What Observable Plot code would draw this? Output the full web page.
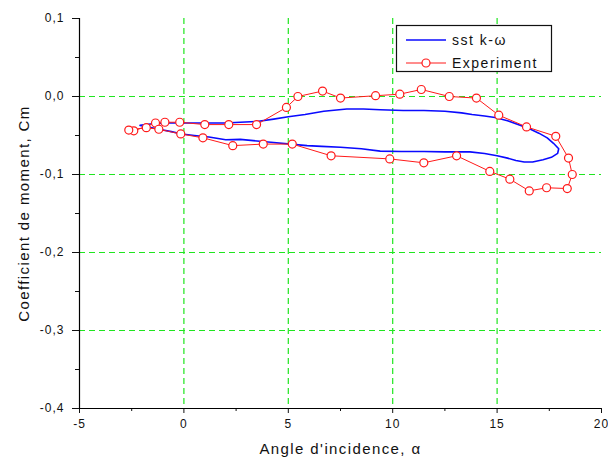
<!DOCTYPE html>
<html>
<head>
<meta charset="utf-8">
<script src="https://cdn.jsdelivr.net/npm/d3@7"></script>
<script src="https://cdn.jsdelivr.net/npm/@observablehq/plot@0.6"></script>
<style>
  body { margin: 0; background: #fff; }
  #chart svg text { letter-spacing: 1px; }
  #chart svg text.lbl { letter-spacing: 1.4px; }
</style>
</head>
<body>
<div id="chart"></div>
<script>
// Simulation (sst k-ω) hysteresis loop
const simAlpha = [-2.1,-1.5,-0.8,0,1,2,2.7,3.5,4.3,5,5.8,6.7,7.8,8.6,9.4,10.5,11.5,12.5,13.3,13.8,14.4,14.9,15.5,16.1,16.6,17,17.4,17.7,17.95,17.9,17.6,17.2,16.7,16.3,15.9,15.5,15.0,14.4,13.7,12.5,11.5,10.4,9.4,8.5,7.5,6.6,5.9,5.1,4.3,3.5,2.7,2.0,1.2,0.5,-0.1,-0.6,-1.2,-1.7,-2.1];
const simCm    = [-0.037,-0.035,-0.034,-0.034,-0.034,-0.034,-0.033,-0.032,-0.029,-0.026,-0.023,-0.019,-0.016,-0.016,-0.017,-0.018,-0.018,-0.019,-0.021,-0.023,-0.025,-0.027,-0.031,-0.037,-0.042,-0.047,-0.053,-0.060,-0.067,-0.073,-0.078,-0.081,-0.084,-0.084,-0.082,-0.079,-0.076,-0.073,-0.071,-0.071,-0.0705,-0.0705,-0.070,-0.067,-0.065,-0.064,-0.063,-0.061,-0.059,-0.057,-0.055,-0.0555,-0.052,-0.050,-0.048,-0.045,-0.042,-0.039,-0.037];

// Experiment
const expAlpha = [-2.4,-1.36,-0.91,-0.2,1.0,2.15,3.48,4.91,5.46,6.64,7.5,9.18,10.34,11.37,12.71,14.01,15.08,16.41,17.81,18.42,18.6,18.36,17.37,16.54,15.61,14.65,13.06,11.49,9.86,7.05,5.19,3.8,2.34,0.91,-0.15,-1.2,-1.8,-2.64];
const expCm    = [-0.044,-0.034,-0.033,-0.033,-0.036,-0.036,-0.036,-0.014,0.000,0.007,-0.002,0.001,0.003,0.009,0.000,-0.002,-0.024,-0.039,-0.051,-0.079,-0.100,-0.118,-0.117,-0.121,-0.106,-0.096,-0.076,-0.085,-0.080,-0.076,-0.061,-0.061,-0.063,-0.053,-0.048,-0.042,-0.040,-0.043];

const xTicks = [-5,0,5,10,15,20];
const xMinor = [-2.5,2.5,7.5,12.5,17.5];
const yTicks = [-0.4,-0.3,-0.2,-0.1,0,0.1];
const yMinor = [-0.35,-0.25,-0.15,-0.05,0.05];
const xGrid = [0,5,10,15];
const yGrid = [-0.3,-0.2,-0.1,0];

const xTitle = "Angle d'incidence, α";
const yTitle = "Coefficient de moment, Cm";
const seriesNames = ["sst k-ω", "Experiment"];

const sim = simAlpha.map((a,i) => ({a, cm: simCm[i]}));
const exp = expAlpha.map((a,i) => ({a, cm: expCm[i]}));

const gridColor = "#1fe61f";
const fmtY = d => (Math.abs(d) < 1e-9 ? 0 : d).toFixed(1).replace(".", ",");

const plot = Plot.plot({
  width: 608,
  height: 466,
  marginLeft: 79,
  marginRight: 7,
  marginTop: 18,
  marginBottom: 58,
  style: "font-family: 'Liberation Sans', Arial, sans-serif; font-size: 12px; background: white; color: #111;",
  x: {domain: [-5, 20]},
  y: {domain: [-0.4, 0.1]},
  marks: [
    Plot.ruleX(xGrid, {stroke: gridColor, strokeDasharray: "6,4", strokeWidth: 1.2}),
    Plot.ruleY(yGrid, {stroke: gridColor, strokeDasharray: "6,4", strokeWidth: 1.2}),
    Plot.axisX(xTicks, {tickSize: 5, tickPadding: 6, tickFormat: d => String(d), label: null, fontSize: 12}),
    Plot.axisX(xMinor, {tickSize: 3, tickFormat: () => "", label: null}),
    Plot.axisY(yTicks, {tickSize: 7, tickPadding: 8, tickFormat: fmtY, label: null, fontSize: 12}),
    Plot.axisY(yMinor, {tickSize: 4, tickFormat: () => "", label: null}),
    Plot.ruleX([-5], {stroke: "#000", strokeWidth: 1.2}),
    Plot.ruleY([-0.4], {stroke: "#000", strokeWidth: 1.2}),
    Plot.line(sim, {x: "a", y: "cm", stroke: "#0a0aff", strokeWidth: 1.6}),
    Plot.line(exp, {x: "a", y: "cm", stroke: "#ff1a1a", strokeWidth: 1}),
    Plot.dot(exp, {x: "a", y: "cm", r: 4, stroke: "#ff1a1a", fill: "white", strokeWidth: 1.2}),
    Plot.text([xTitle], {frameAnchor: "bottom", textAnchor: "middle", dy: 45, fontSize: 15, fill: "#111"}),
    Plot.text([yTitle], {frameAnchor: "left", textAnchor: "middle", dx: -55, rotate: -90, fontSize: 15, fill: "#111"})
  ]
});

document.getElementById("chart").appendChild(plot);

// axis titles letter spacing
d3.select(plot).selectAll("text").filter(function(){ return this.textContent === xTitle || this.textContent === yTitle; }).classed("lbl", true);

// Legend box (inside plot area)
const svg = d3.select(plot);
const lg = svg.append("g").attr("font-family", "'Liberation Sans', Arial, sans-serif").attr("font-size", 14);
lg.append("rect").attr("x", 396.5).attr("y", 25.5).attr("width", 155).attr("height", 46)
  .attr("fill", "white").attr("stroke", "#111").attr("stroke-width", 1.2);
const rows = [
  {name: seriesNames[0], color: "#0a0aff", y: 40, marker: false, w: 1.6},
  {name: seriesNames[1], color: "#ff1a1a", y: 63, marker: true, w: 1}
];
rows.forEach(r => {
  lg.append("line").attr("x1", 406).attr("x2", 446).attr("y1", r.y).attr("y2", r.y)
    .attr("stroke", r.color).attr("stroke-width", r.w);
  if (r.marker) lg.append("circle").attr("cx", 426).attr("cy", r.y).attr("r", 4)
    .attr("fill", "white").attr("stroke", r.color).attr("stroke-width", 1.2);
  lg.append("text").attr("x", 452).attr("y", r.y).attr("dy", "0.35em")
    .attr("text-anchor", "start")
    .attr("fill", "#111").style("letter-spacing", "1.5px").text(r.name);
});
</script>
</body>
</html>
